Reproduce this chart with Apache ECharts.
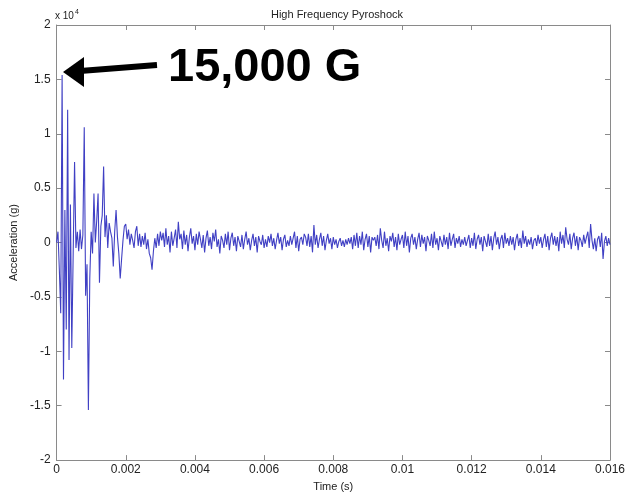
<!DOCTYPE html>
<html>
<head>
<meta charset="utf-8">
<script src="https://cdn.jsdelivr.net/npm/echarts@6/dist/echarts.min.js"></script>
<style>html,body{margin:0;padding:0;background:#fff;}#chart{width:628px;height:497px;}</style>
</head>
<body>
<div id="chart"></div>
<script>
// Sampling interval of the recorded signal (s)
const sampleStep = 0.00004;
// Acceleration samples (g)
const accel = [
  0, 1000, -2500, -6500, 15400, -12600, 3000, -8000, 12200, -10800,
  3500, -9700, -1000, 7400, -500, 1000, -800, 1200, -600, 700,
  10600, -4900, -2000, -15400, -3300, 1000, -1000, 4500, 0, 2000,
  4500, -3700, 1500, 2500, 7000, 500, 2500, -500, 1800, 1000,
  400, -2200, 1000, 3000, 500, -1000, -3300, -1500, 200, 1500,
  1700, 300, 1200, -200, 800, 200, -500, 1000, 1500, -300,
  800, -400, 600, -200, 900, -600, 300, -1000, -1400, -2500,
  -800, 400, -500, 800, -300, 1000, 200, 900, -400, 1300,
  -200, 600, -900, 1000, -300, 400, 1200, -500, 1900, 300,
  800, -600, 1100, -200, 700, -800, 500, 1300, -100, 600,
  -700, 800, -200, 1000, 300, -500, 700, -900, 400, 1100,
  -300, 500, -600, 900, 100, 1200, -400, 300, -1000, 600,
  200, -500, 800, -200, 1000, -700, 400, 900, -300, 500,
  -800, 600, 100, -400, 700, -600, 300, 1000, -200, 400,
  -700, 200, 800, -300, 500, -900, 600, 100, -200, 700,
  -500, 300, -400, 600, 0, 800, -300, 400, -600, 200,
  900, -100, 500, -700, 300, 700, -400, 200, -300, 600,
  -200, 400, 1000, -500, 600, -800, 300, 500, -200, 800,
  500, -300, 800, -400, 600, -900, 1600, -200, 700, -500,
  300, 900, -300, 600, -700, 200, 800, -100, 400, -600,
  500, -200, 300, -500, 100, 400, -300, 200, -400, 300,
  -200, 400, -100, 500, -600, 700, -300, 900, -500, 600,
  -200, 1000, -700, 300, 800, -400, 600, -900, 500, 200,
  500, -300, 700, -600, 1300, 200, -500, 1000, -300, 400,
  -800, 600, 100, 900, -400, 500, -700, 800, -200, 300,
  700, -500, 1000, -300, 600, -900, 400, 800, -200, 500,
  -600, 300, 900, -400, 700, -100, 500, -800, 600, 200,
  -300, 800, -500, 1000, -200, 400, -700, 600, 100, -400,
  700, -200, 500, -600, 900, -300, 300, 800, -500, 400,
  -100, 600, -400, 300, -200, 500, -300, 200, 700, -500,
  400, -300, 900, -600, 300, 700, -200, 500, -800, 600,
  100, -400, 800, -300, 600, -700, 400, 1000, -200, 500,
  -600, 300, 700, -500, 900, -100, 400, -300, 600, -200,
  500, -700, 300, 800, -300, 400, -500, 1100, -100, 600,
  -400, 300, -200, 500, -600, 200, 400, -300, 700, -100,
  500, -500, 300, 800, -400, 600, -700, 400, 900, -200,
  600, -300, 500, -800, 1000, -100, 700, -500, 1400, 300,
  -200, 800, -600, 400, 900, -300, 600, -700, 500, 200,
  -400, 700, -100, 500, 1000, -500, 1700, 200, -600, 400,
  -800, 300, 600, -400, 900, -1500, 100, 600, -300, 400,
  -200
];
// Axis ranges / ticks
const xMin = 0, xMax = 0.016, xStep = 0.002;
const yMin = -20000, yMax = 20000, yStep = 5000;
const yScale = 10000; // "x 10^4"

const seriesData = accel.map((v, i) => [i * sampleStep, v]);

const axisColor = '#8a8a8a';
const fontFam = 'Liberation Sans, Arial, sans-serif';
const labelFont = { color: '#222', fontSize: 12, fontFamily: fontFam };
const frameLine = { show: true, onZero: false, lineStyle: { color: axisColor, width: 1 } };
const frameTick = { show: true, inside: true, length: 5, lineStyle: { color: axisColor } };

const chart = echarts.init(document.getElementById('chart'), null, { renderer: 'canvas' });
chart.setOption({
  animation: false,
  backgroundColor: '#fff',
  title: {
    text: 'High Frequency Pyroshock',
    left: 332, top: 4, textAlign: 'center',
    textStyle: { fontSize: 11, fontWeight: 'normal', color: '#222', fontFamily: fontFam }
  },
  grid: { left: 54, right: 18, top: 25, bottom: 34, containLabel: false },
  xAxis: [
    {
      type: 'value', min: xMin, max: xMax, interval: xStep,
      name: 'Time (s)', nameLocation: 'middle', nameGap: 20,
      nameTextStyle: { color: '#222', fontSize: 11, fontFamily: fontFam },
      axisLine: frameLine, axisTick: frameTick,
      axisLabel: Object.assign({ margin: 4, formatter: v => String(+v.toFixed(3)), showMinLabel: true, showMaxLabel: true }, labelFont),
      splitLine: { show: false }
    },
    {
      type: 'value', min: xMin, max: xMax, interval: xStep, position: 'top',
      axisLine: frameLine, axisTick: frameTick,
      axisLabel: { show: false }, splitLine: { show: false }
    }
  ],
  yAxis: [
    {
      type: 'value', min: yMin, max: yMax, interval: yStep,
      name: 'Acceleration (g)', nameLocation: 'middle', nameGap: 32, nameRotate: 90,
      nameTextStyle: { color: '#222', fontSize: 11, fontFamily: fontFam },
      axisLine: frameLine, axisTick: frameTick,
      axisLabel: Object.assign({ margin: 6, formatter: v => String(v / yScale) }, labelFont),
      splitLine: { show: false }
    },
    {
      type: 'value', min: yMin, max: yMax, interval: yStep, position: 'right',
      axisLine: frameLine, axisTick: frameTick,
      axisLabel: { show: false }, splitLine: { show: false }
    }
  ],
  series: [{
    type: 'line', data: seriesData, showSymbol: false, symbol: 'none',
    xAxisIndex: 0, yAxisIndex: 0, sampling: false,
    lineStyle: { color: '#4040c4', width: 1.1 }
  }],
  graphic: [
    {
      type: 'text', x: 55, y: 15,
      style: {
        text: '{a|x 10}{b|4}',
        rich: {
          a: { fontSize: 10, fill: '#222', fontFamily: fontFam, verticalAlign: 'bottom' },
          b: { fontSize: 7, fill: '#222', fontFamily: fontFam, verticalAlign: 'top', padding: [0,0,6,1] }
        },
        verticalAlign: 'middle'
      }
    },
    {
      type: 'line',
      shape: { x1: 157, y1: 65, x2: 80, y2: 71 },
      style: { stroke: '#000', lineWidth: 6 }
    },
    {
      type: 'polygon',
      shape: { points: [[63, 72], [84, 57], [84, 87]] },
      style: { fill: '#000' }
    },
    {
      type: 'text', x: 168, y: 68,
      style: {
        text: '15,000 G', fill: '#000',
        font: 'bold 47px "Liberation Sans", Arial, sans-serif',
        verticalAlign: 'middle', align: 'left'
      }
    }
  ]
});
</script>
</body>
</html>
